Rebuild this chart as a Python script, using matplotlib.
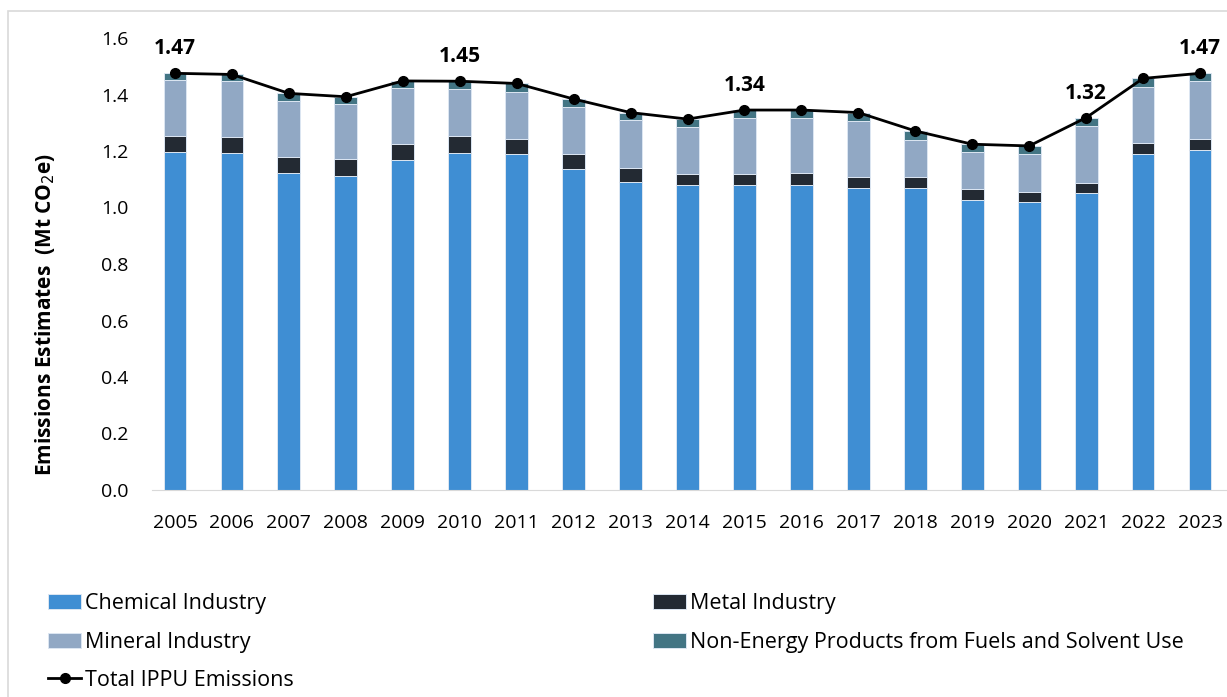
import numpy as np
import matplotlib.pyplot as plt
from matplotlib.patches import Rectangle

plt.rcParams['font.family'] = ['Open Sans', 'DejaVu Sans']

##################################################
# Data (Mt CO2e)

years = ['2005', '2006', '2007', '2008', '2009', '2010', '2011', '2012', '2013',
         '2014', '2015', '2016', '2017', '2018', '2019', '2020', '2021', '2022',
         '2023']

chemical = [1.195, 1.193, 1.122, 1.113, 1.167, 1.194, 1.189, 1.138, 1.090,
            1.078, 1.078, 1.081, 1.070, 1.070, 1.027, 1.018, 1.050, 1.188,
            1.205]
metal = [0.058, 0.057, 0.058, 0.057, 0.058, 0.058, 0.053, 0.053, 0.050,
         0.041, 0.041, 0.040, 0.039, 0.039, 0.038, 0.038, 0.038, 0.039, 0.039]
mineral = [0.198, 0.198, 0.197, 0.197, 0.197, 0.167, 0.168, 0.166, 0.169,
           0.166, 0.198, 0.196, 0.197, 0.130, 0.130, 0.132, 0.202, 0.201,
           0.203]
non_energy = [0.024, 0.023, 0.027, 0.025, 0.026, 0.028, 0.029, 0.027, 0.027,
              0.028, 0.028, 0.028, 0.030, 0.032, 0.029, 0.030, 0.028, 0.029,
              0.028]

# only a few totals are labelled in the original
label_years = ['2005', '2010', '2015', '2021', '2023']
label_texts = ['1.47', '1.45', '1.34', '1.32', '1.47']

##################################################
# Plot

chemical = np.array(chemical)
metal = np.array(metal)
mineral = np.array(mineral)
non_energy = np.array(non_energy)
total = chemical + metal + mineral + non_energy

x = np.arange(len(years))
w = 0.4
edge = dict(edgecolor='#DCE6F2', linewidth=0.7)

fig = plt.figure(figsize=(12.27, 6.97), dpi=100)

# light frame round the chart
fig.patches.append(Rectangle((8/1227, -0.1), 1.2, 1 - 11/697 + 0.1,
                             transform=fig.transFigure, fill=False,
                             edgecolor='#D9D9D9', linewidth=1.2, zorder=0))

ax = fig.add_axes([146.5/1227, 1 - 490/697, (1228.5 - 146.5)/1227, 452/697])

b1 = ax.bar(x, chemical, w, color='#3F8ED3', **edge)
b2 = ax.bar(x, metal, w, bottom=chemical, color='#232A33', **edge)
b3 = ax.bar(x, mineral, w, bottom=chemical + metal, color='#91A8C4', **edge)
b4 = ax.bar(x, non_energy, w, bottom=chemical + metal + mineral,
            color='#437584', **edge)
ln, = ax.plot(x, total, '-o', color='black', linewidth=2, markersize=7,
              zorder=5)

for yr, txt in zip(label_years, label_texts):
    i = years.index(yr)
    ax.annotate(txt, (x[i], total[i]), xytext=(0, 10),
                textcoords='offset points', ha='center', va='bottom',
                fontsize=15, fontweight='bold')

ax.set_xlim(-0.5, len(years) - 0.5)
ax.set_ylim(0, 1.6)
ax.set_yticks(np.arange(0, 1.61, 0.2))
ax.set_yticklabels(['%.1f' % v for v in np.arange(0, 1.61, 0.2)])
ax.set_xticks(x)
ax.set_xticklabels(years)
ax.tick_params(length=0, labelsize=14)
ax.tick_params(axis='y', pad=13)
ax.tick_params(axis='x', pad=17)

for s in ['top', 'right', 'left']:
    ax.spines[s].set_visible(False)
ax.spines['bottom'].set_color('#D9D9D9')
ax.spines['bottom'].set_bounds(-0.4, len(years) - 0.5)

fig.text(45/1227, 1 - 314/697, 'Emissions Estimates  (Mt CO$_2$e)',
         rotation=90, ha='center', va='center', fontsize=15,
         fontweight='bold')

# legend: columns fill first, so order handles to give rows as in the original
handles = [b1, b3, ln, b2, b4]
labels = ['Chemical Industry', 'Mineral Industry', 'Total IPPU Emissions',
          'Metal Industry', 'Non-Energy Products from Fuels and Solvent Use']
fig.legend(handles, labels, loc='upper left',
           bbox_to_anchor=(29/1227, 1 - 574/697), ncol=2, frameon=False,
           fontsize=15.5, handlelength=1.5, handletextpad=0.2,
           columnspacing=16.7, labelspacing=0.8)

fig.savefig('out.png', dpi=100)
